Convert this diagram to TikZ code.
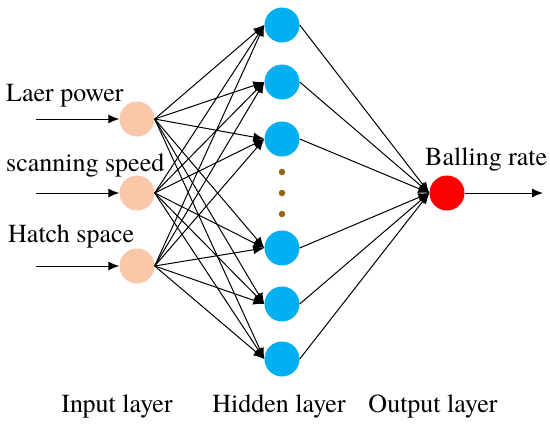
\documentclass[tikz,border=0pt]{standalone}
\usepackage{fontspec}
\setmainfont{TeX Gyre Termes}
\usetikzlibrary{arrows.meta}
\definecolor{peach}{RGB}{250,200,168}
\definecolor{hidcol}{RGB}{0,176,240}
\definecolor{outcol}{RGB}{255,0,0}
\definecolor{dotcol}{RGB}{150,100,20}
\tikzset{
  inneuron/.style={circle,fill=peach,minimum size=35pt,inner sep=0pt},
  hidneuron/.style={circle,fill=hidcol,minimum size=35pt,inner sep=0pt},
  outneuron/.style={circle,fill=outcol,minimum size=35pt,inner sep=0pt},
  conn/.style={-{Latex[length=11pt,width=9pt]},line width=1pt},
  lbl/.style={font=\fontsize{26}{30}\selectfont,inner sep=0pt},
  vdot/.style={circle,fill=dotcol,minimum size=6.5pt,inner sep=0pt}
}
\begin{document}
\begin{tikzpicture}[x=1pt,y=-1pt]
\useasboundingbox (0,0) rectangle (550,424);
% input nodes
\node[inneuron] (i1) at (137,119) {};
\node[inneuron] (i2) at (137,193) {};
\node[inneuron] (i3) at (137,266) {};
% hidden nodes
\node[hidneuron] (h1) at (282,25) {};
\node[hidneuron] (h2) at (282,82) {};
\node[hidneuron] (h3) at (282,139) {};
\node[hidneuron] (h4) at (282,248) {};
\node[hidneuron] (h5) at (282,304) {};
\node[hidneuron] (h6) at (282,359) {};
\node[vdot] (d1) at (282,172) {};
\node[vdot] (d2) at (282,193) {};
\node[vdot] (d3) at (282,214) {};
% output
\node[outneuron] (o) at (447,193) {};
% input arrows
\coordinate (a1) at (36,119);
\coordinate (a2) at (36,193);
\coordinate (a3) at (36,266);
\coordinate (ae) at (543,193);
\foreach \k in {1,2,3} {\draw[conn] (a\k) -- (i\k.west);}
\draw[conn] (o.east) -- (ae);
% input to hidden
\foreach \i in {1,2,3} {
  \foreach \h in {1,...,6} {
    \draw[conn] (i\i.east) -- (h\h.west);
  }
}
% hidden to output
\foreach \h in {1,...,6} {\draw[conn] (h\h.east) -- (o.west);}
% labels
\node[lbl,anchor=base west] (t1) at (6,101.5) {Laer power};
\node[lbl,anchor=base west] (t2) at (6,171) {scanning speed};
\node[lbl,anchor=base west] (t3) at (8,242) {Hatch space};
\node[lbl,anchor=base west] (t4) at (425,165) {Balling rate};
\node[lbl,anchor=base] (b1) at (117,412) {Input layer};
\node[lbl,anchor=base] (b2) at (279,412) {Hidden layer};
\node[lbl,anchor=base] (b3) at (433,412) {Output layer};
\end{tikzpicture}
\end{document}
